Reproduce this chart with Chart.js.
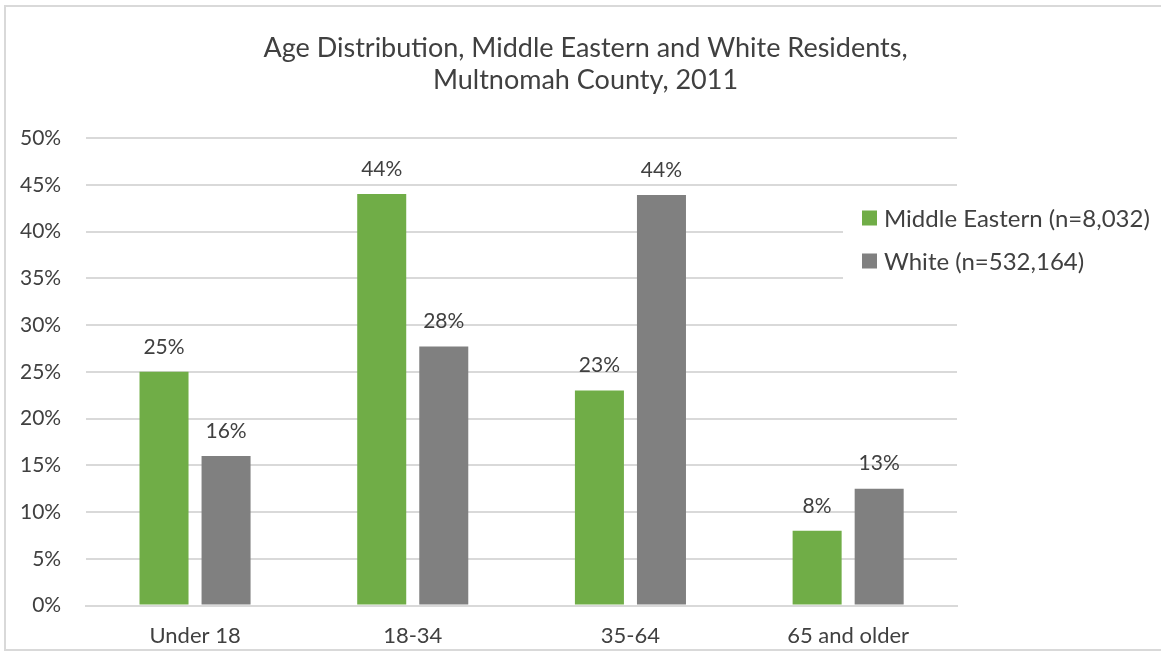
<!DOCTYPE html>
<html>
<head>
<meta charset="utf-8">
<script src="https://cdn.jsdelivr.net/npm/chart.js@4/dist/chart.umd.min.js"></script>
<style>
  html, body { margin: 0; padding: 0; background: #fff; }
  #frame {
    position: absolute; left: 4px; top: 5px; width: 1170px; height: 646px;
    border: 2px solid #d9d9d9; box-sizing: border-box; overflow: hidden;
  }
  #wrap { position: absolute; left: -6px; top: -7px; width: 1161px; height: 654px; }
</style>
</head>
<body>
<div id="frame"><div id="wrap"><canvas id="ageChart" width="1161" height="654"></canvas></div></div>
<script>
// Age distribution chart

const categories     = ['Under 18', '18-34', '35-64', '65 and older'];
const middleEastern  = [25, 44, 23, 8];
const white          = [16, 27.7, 43.9, 12.5];
const yTicks         = [0, 5, 10, 15, 20, 25, 30, 35, 40, 45, 50];
const titleLines     = ['Age Distribution, Middle Eastern and White Residents,', 'Multnomah County, 2011'];

const green = '#70AD47';
const gray  = '#808080';
const text  = '#404040';
const grid  = '#d9d9d9';
const font  = "Lato, 'Open Sans', sans-serif";

// ── title centred on the whole canvas (the plot is pushed left by the legend) ──
const canvasTitle = {
    id: 'canvasTitle',
    afterDraw(chart) {
        const ctx = chart.ctx;
        ctx.save();
        ctx.fillStyle = text;
        ctx.font = '27px ' + font;
        ctx.textAlign = 'center';
        ctx.textBaseline = 'middle';
        titleLines.forEach((line, i) => ctx.fillText(line, chart.width / 2 + 5, 48 + i * 32));
        ctx.restore();
    }
};

// ── value labels above bars ──
const barLabels = {
    id: 'barLabels',
    afterDatasetsDraw(chart) {
        const ctx = chart.ctx;
        ctx.save();
        ctx.fillStyle = text;
        ctx.font = '21px ' + font;
        ctx.textAlign = 'center';
        ctx.textBaseline = 'middle';
        chart.data.datasets.forEach((ds, i) => {
            chart.getDatasetMeta(i).data.forEach((bar, j) => {
                ctx.fillText(Math.round(ds.data[j]) + '%', bar.x, bar.y - 25);
            });
        });
        ctx.restore();
    }
};

// ── legend laid over the upper right of the plot, like the Excel one ──
const overlayLegend = {
    id: 'overlayLegend',
    afterDraw(chart) {
        const ctx = chart.ctx;
        const x = chart.chartArea.right - 95;
        const y0 = 218;
        const step = 43;
        ctx.save();
        ctx.fillStyle = '#fff';
        ctx.fillRect(x - 19, y0 - 26, chart.width - x + 19, step + 52);
        ctx.font = '24px ' + font;
        ctx.textBaseline = 'middle';
        chart.data.datasets.forEach((ds, i) => {
            const y = y0 + i * step;
            ctx.fillStyle = ds.backgroundColor;
            ctx.fillRect(x, y - 7.5, 15, 15);
            ctx.fillStyle = text;
            ctx.fillText(ds.label, x + 22, y + 1);
        });
        ctx.restore();
    }
};

new Chart(document.getElementById('ageChart'), {
    type: 'bar',
    data: {
        labels: categories,
        datasets: [
            { label: 'Middle Eastern (n=8,032)', data: middleEastern, backgroundColor: green },
            { label: 'White (n=532,164)',        data: white,         backgroundColor: gray }
        ]
    },
    options: {
        responsive: false,
        animation: false,
        categoryPercentage: 0.57,
        barPercentage: 0.79,
        layout: { padding: { left: -5, right: 204, top: 138, bottom: -4 } },
        plugins: {
            title: { display: false },
            legend: { display: false },
            tooltip: { enabled: false }
        },
        scales: {
            x: {
                grid: { display: false },
                border: { color: grid, width: 2 },
                ticks: { color: text, font: { family: font, size: 22 }, padding: 9 }
            },
            y: {
                min: 0,
                max: 50,
                afterBuildTicks: axis => { axis.ticks = yTicks.map(v => ({ value: v })); },
                grid: { color: grid, lineWidth: 2, drawTicks: false },
                border: { display: false },
                ticks: {
                    color: text,
                    font: { family: font, size: 21 },
                    padding: 25,
                    callback: v => v + '%'
                }
            }
        }
    },
    plugins: [barLabels, overlayLegend, canvasTitle]
});
</script>
</body>
</html>
